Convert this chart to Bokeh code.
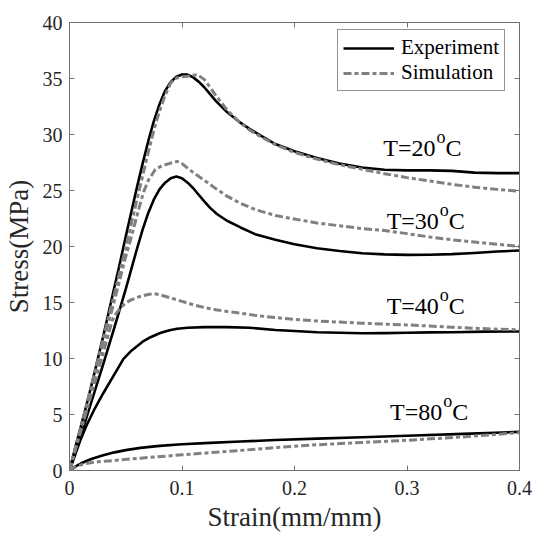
from bokeh.plotting import figure
from bokeh.models import Range1d, LinearAxis, FixedTicker, Legend, LegendItem, ColumnDataSource
from bokeh.embed import file_html
from bokeh.resources import INLINE
from bokeh.core.properties import value

# ---------------- data ----------------
x_ticks = [0, 0.1, 0.2, 0.3, 0.4]
x_tick_labels = ["0", "0.1", "0.2", "0.3", "0.4"]
y_ticks = [0, 5, 10, 15, 20, 25, 30, 35, 40]
y_tick_labels = ["0", "5", "10", "15", "20", "25", "30", "35", "40"]

exp20_x = [0, 0.005, 0.01, 0.015, 0.02, 0.025, 0.03, 0.035, 0.04, 0.045, 0.05, 0.055, 0.06, 0.065, 0.07, 0.075, 0.08, 0.085, 0.09, 0.095, 0.1, 0.105, 0.11, 0.115, 0.12, 0.125, 0.13, 0.14, 0.15, 0.16, 0.17, 0.183, 0.2, 0.22, 0.24, 0.26, 0.28, 0.3, 0.32, 0.34, 0.36, 0.38, 0.4]
exp20_y = [0, 2.0, 3.9, 5.8, 7.8, 9.9, 12.0, 14.2, 16.4, 18.6, 20.9, 23.1, 25.3, 27.4, 29.4, 31.2, 32.7, 33.9, 34.7, 35.15, 35.35, 35.35, 35.1, 34.7, 34.2, 33.6, 33.0, 32.0, 31.2, 30.5, 29.9, 29.15, 28.5, 27.9, 27.4, 27.05, 26.85, 26.8, 26.8, 26.75, 26.6, 26.55, 26.55]

sim20_x = [0, 0.01, 0.02, 0.03, 0.04, 0.05, 0.06, 0.065, 0.07, 0.075, 0.08, 0.085, 0.09, 0.095, 0.1, 0.105, 0.11, 0.1135, 0.12, 0.125, 0.13, 0.14, 0.15, 0.16, 0.17, 0.183, 0.2, 0.22, 0.24, 0.26, 0.28, 0.3, 0.32, 0.34, 0.36, 0.38, 0.4]
sim20_y = [0, 3.8, 7.8, 11.8, 15.8, 19.9, 24.2, 26.3, 28.4, 30.4, 32.1, 33.5, 34.6, 35.05, 35.15, 35.2, 35.3, 35.35, 34.9, 34.2, 33.5, 32.2, 31.2, 30.4, 29.8, 29.1, 28.4, 27.8, 27.3, 26.9, 26.5, 26.15, 25.85, 25.55, 25.3, 25.1, 24.94]

exp30_x = [0, 0.01, 0.02, 0.03, 0.04, 0.045, 0.05, 0.055, 0.06, 0.065, 0.07, 0.075, 0.08, 0.085, 0.09, 0.095, 0.1, 0.105, 0.11, 0.115, 0.12, 0.125, 0.131, 0.14, 0.152, 0.165, 0.183, 0.2, 0.22, 0.24, 0.26, 0.28, 0.3, 0.32, 0.34, 0.36, 0.38, 0.4]
exp30_y = [0, 3.1, 6.3, 9.5, 12.8, 14.5, 16.2, 18.0, 19.8, 21.5, 23.0, 24.2, 25.1, 25.7, 26.1, 26.25, 26.1, 25.7, 25.2, 24.6, 24.0, 23.45, 22.9, 22.3, 21.7, 21.1, 20.6, 20.2, 19.85, 19.6, 19.4, 19.3, 19.25, 19.27, 19.32, 19.42, 19.55, 19.64]

sim30_x = [0, 0.01, 0.02, 0.03, 0.04, 0.05, 0.054, 0.058, 0.062, 0.066, 0.07, 0.0764, 0.082, 0.09, 0.0957, 0.1, 0.105, 0.11, 0.12, 0.131, 0.14, 0.152, 0.165, 0.183, 0.2, 0.22, 0.24, 0.26, 0.28, 0.3, 0.32, 0.34, 0.36, 0.38, 0.4]
sim30_y = [0, 3.8, 7.6, 11.4, 15.2, 19.1, 20.5, 22.0, 23.5, 24.9, 25.9, 26.9, 27.2, 27.45, 27.6, 27.4, 27.0, 26.6, 25.9, 25.1, 24.5, 23.85, 23.3, 22.77, 22.45, 22.1, 21.85, 21.6, 21.43, 21.15, 20.85, 20.6, 20.4, 20.2, 20.0]

exp40_x = [0, 0.005, 0.01, 0.015, 0.0216, 0.03, 0.04, 0.048, 0.055, 0.06, 0.065, 0.072, 0.08, 0.085, 0.09, 0.0957, 0.105, 0.12, 0.14, 0.16, 0.183, 0.2, 0.22, 0.24, 0.26, 0.28, 0.3, 0.32, 0.34, 0.37, 0.4]
exp40_y = [0, 1.4, 2.8, 4.0, 5.36, 6.9, 8.6, 9.97, 10.7, 11.1, 11.5, 11.9, 12.25, 12.4, 12.55, 12.65, 12.75, 12.8, 12.8, 12.75, 12.55, 12.45, 12.35, 12.3, 12.26, 12.27, 12.3, 12.33, 12.35, 12.4, 12.41]

sim40_x = [0, 0.01, 0.02, 0.03, 0.038, 0.042, 0.046, 0.05, 0.054, 0.06, 0.065, 0.07, 0.075, 0.08, 0.09, 0.1, 0.11, 0.12, 0.13, 0.14, 0.152, 0.165, 0.183, 0.2, 0.22, 0.24, 0.26, 0.28, 0.3, 0.32, 0.34, 0.36, 0.38, 0.4]
sim40_y = [0, 3.5, 7.0, 10.5, 13.4, 14.1, 14.6, 14.95, 15.2, 15.45, 15.6, 15.72, 15.8, 15.7, 15.4, 15.1, 14.8, 14.55, 14.35, 14.2, 14.05, 13.85, 13.65, 13.5, 13.35, 13.25, 13.15, 13.07, 13.0, 12.9, 12.8, 12.7, 12.62, 12.56]

exp80_x = [0, 0.005, 0.01, 0.015, 0.02, 0.03, 0.04, 0.05, 0.063, 0.08, 0.1, 0.125, 0.152, 0.183, 0.22, 0.26, 0.3, 0.35, 0.4]
exp80_y = [0, 0.35, 0.62, 0.85, 1.05, 1.37, 1.62, 1.82, 2.02, 2.2, 2.34, 2.47, 2.59, 2.72, 2.85, 2.97, 3.1, 3.27, 3.45]

sim80_x = [0, 0.005, 0.01, 0.015, 0.02, 0.03, 0.04, 0.063, 0.1, 0.152, 0.183, 0.22, 0.26, 0.3, 0.35, 0.4]
sim80_y = [0, 0.3, 0.5, 0.63, 0.72, 0.82, 0.9, 1.1, 1.4, 1.79, 2.05, 2.3, 2.5, 2.7, 3.0, 3.38]

label_main = ["T=20", "T=30", "T=40", "T=80"]
label_x = [0.3253, 0.3283, 0.3283, 0.3313]
label_y = [28.8, 22.3, 14.65, 5.2]

# ---------------- figure ----------------
FONT = "Liberation Serif"
AX = "#707070"

p = figure(frame_width=450, frame_height=448,
           x_range=Range1d(0, 0.4), y_range=Range1d(0, 40),
           output_backend="svg", toolbar_location=None,
           min_border_left=61, min_border_top=22, min_border_right=23, min_border_bottom=60,
           x_axis_label="Strain(mm/mm)", y_axis_label="Stress(MPa)")
p.grid.visible = False
p.outline_line_color = AX
p.background_fill_color = "white"
p.border_fill_color = "white"

def style_axis(ax, ticks, labels):
    ax.ticker = FixedTicker(ticks=ticks)
    ax.major_label_overrides = {t: l for t, l in zip(ticks, labels)}
    ax.major_tick_in = 5
    ax.major_tick_out = 0
    ax.minor_tick_in = 0
    ax.minor_tick_out = 0
    ax.axis_line_color = AX
    ax.major_tick_line_color = AX
    ax.major_label_text_font = FONT
    ax.major_label_text_font_size = "20px"
    ax.major_label_text_color = "#262626"
    ax.axis_label_text_font = FONT
    ax.axis_label_text_font_size = "27px"
    ax.axis_label_text_font_style = "normal"
    ax.axis_label_text_color = "#262626"

style_axis(p.xaxis[0], x_ticks, x_tick_labels)
style_axis(p.yaxis[0], y_ticks, y_tick_labels)
p.xaxis[0].major_label_standoff = 10
p.xaxis[0].axis_label_standoff = 4
p.yaxis[0].major_label_standoff = 7
p.yaxis[0].axis_label_standoff = 6

def box_axis(ticks):
    ax = LinearAxis(ticker=FixedTicker(ticks=ticks), major_tick_in=5, major_tick_out=0,
                    minor_tick_in=0, minor_tick_out=0, axis_line_color=AX,
                    major_tick_line_color=AX, major_label_standoff=0)
    ax.major_label_overrides = {t: "" for t in ticks}
    return ax

p.add_layout(box_axis(x_ticks), "above")
p.add_layout(box_axis(y_ticks), "right")

BLACK = "black"
GRAY = "#808080"
DASH = "8 3 4 3"

sims = [(sim20_x, sim20_y), (sim30_x, sim30_y), (sim40_x, sim40_y), (sim80_x, sim80_y)]
exps = [(exp20_x, exp20_y), (exp30_x, exp30_y), (exp40_x, exp40_y), (exp80_x, exp80_y)]

exp_r = []
for xs, ys in exps:
    exp_r.append(p.line(xs, ys, line_color=BLACK, line_width=2.6, line_join="round"))
sim_r = []
for xs, ys in sims:
    sim_r.append(p.line(xs, ys, line_color=GRAY, line_width=3, line_dash=DASH, line_join="round"))

# temperature labels with superscript o
src = ColumnDataSource(dict(x=label_x, y=label_y, t=label_main,
                            ys=[v + 1.0 for v in label_y],
                            o=["o"] * len(label_x), c=["C"] * len(label_x)))
p.text(x="x", y="y", text="t", source=src, text_font=value(FONT), text_font_size="24px",
       text_align="right", text_baseline="alphabetic", text_color="black")
p.text(x="x", y="ys", text="o", source=src, text_font=value(FONT), text_font_size="18px",
       text_align="left", text_baseline="alphabetic", text_color="black", x_offset=1)
p.text(x="x", y="y", text="c", source=src, text_font=value(FONT), text_font_size="24px",
       text_align="left", text_baseline="alphabetic", text_color="black", x_offset=10)

legend = Legend(items=[LegendItem(label="Experiment", renderers=[exp_r[0]]),
                       LegendItem(label="Simulation", renderers=[sim_r[0]])],
                location=(268, 379))
legend.label_text_font = FONT
legend.label_text_font_size = "21px"
legend.label_text_color = "black"
legend.border_line_color = "#262626"
legend.border_line_width = 1
legend.padding = 5
legend.spacing = 0
legend.margin = 0
legend.glyph_width = 51
legend.glyph_height = 20
legend.label_height = 20
legend.label_standoff = 7
legend.background_fill_alpha = 1
p.add_layout(legend, "center")

open("out.html", "w").write(file_html(p, INLINE))
